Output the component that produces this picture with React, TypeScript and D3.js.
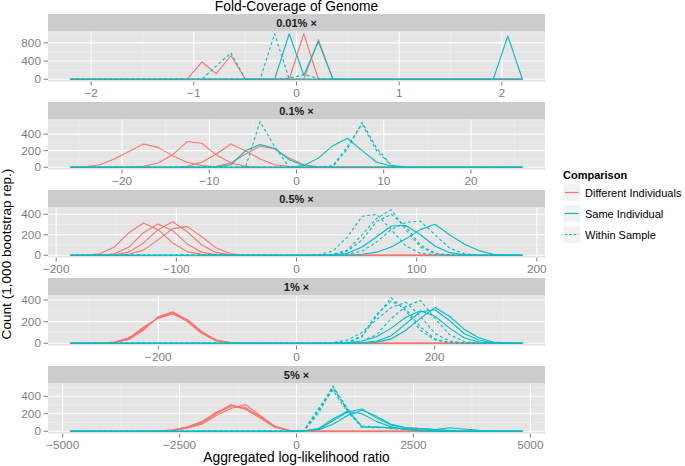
import React from "react";
import * as d3 from "d3";

// ---------------- data ----------------
const panelLabels = ["0.01% ×", "0.1% ×", "0.5% ×", "1% ×", "5% ×"];
// half-width of the range of bin centres in each panel
const panelHalfRange = [2.2, 25.9, 188, 327, 4830];
const pointsPerLine = 32;
const xTickValues = [
  [-2, -1, 0, 1, 2],
  [-20, -10, 0, 10, 20],
  [-200, -100, 0, 100, 200],
  [-200, 0, 200],
  [-5000, -2500, 0, 2500, 5000],
];
const xMinorStep = [0.5, 5, 50, 100, 1250];
const yTickValues = [
  [0, 400, 800],
  [0, 200, 400],
  [0, 200, 400],
  [0, 200, 400],
  [0, 200, 400],
];
const yMinorStep = [200, 100, 100, 100, 100];

const seriesNames = ["Different Individuals", "Same Individual", "Within Sample"];

// each line: [first bin index, counts from that bin on]; all other bins are 0
type Segment = [number, number[]];

const differentIndividuals: Segment[][] = [
  [
    [8, [0, 378, 124, 522, 0]],
    [15, [0, 1000, 0]],
    [16, [0, 870, 0]],
    [0, [0]],
  ],
  [
    [1, [5, 30, 100, 190, 280, 240, 140, 60, 20, 5]],
    [5, [10, 50, 150, 310, 290, 150, 50, 10]],
    [8, [10, 60, 160, 280, 200, 100, 30, 8]],
    [10, [10, 50, 160, 255, 220, 110, 30, 5]],
  ],
  [
    [1, [0, 15, 80, 220, 315, 250, 120, 35, 8]],
    [3, [15, 80, 220, 305, 240, 110, 30, 5]],
    [3, [5, 30, 120, 250, 327, 230, 100, 25, 5]],
    [4, [10, 50, 150, 260, 279, 180, 70, 15]],
  ],
  [
    [2, [2, 5, 40, 130, 240, 285, 210, 100, 25, 5]],
    [2, [2, 8, 50, 140, 235, 275, 200, 90, 20, 3]],
    [2, [1, 6, 35, 120, 245, 291, 215, 105, 30, 6]],
    [2, [2, 10, 45, 150, 230, 270, 220, 110, 25, 4]],
  ],
  [
    [6, [2, 10, 40, 90, 200, 290, 270, 170, 50, 8]],
    [6, [3, 15, 45, 100, 210, 306, 250, 150, 45, 6]],
    [6, [2, 8, 35, 80, 180, 260, 306, 180, 60, 10]],
    [6, [4, 12, 50, 110, 220, 280, 260, 160, 55, 8]],
  ],
];

const sameIndividual: Segment[][] = [
  [[14, [0, 1000, 87, 830, 0, 0, 0, 0, 0, 0, 0, 0, 0, 0, 0, 0, 950, 0]]],
  [
    [10, [5, 30, 200, 275, 230, 90, 20]],
    [15, [0, 20, 110, 260, 350, 200, 60, 15, 3]],
  ],
  [
    [18, [5, 20, 80, 180, 285, 290, 200, 90, 25, 5]],
    [20, [10, 30, 80, 160, 250, 302, 200, 110, 45, 10, 2]],
  ],
  [
    [20, [2, 10, 40, 120, 230, 330, 250, 130, 50, 12, 3]],
    [20, [5, 20, 70, 180, 290, 310, 210, 90, 30, 5]],
    [19, [5, 20, 60, 140, 240, 300, 250, 140, 50, 12, 2]],
  ],
  [
    [16, [5, 20, 120, 220, 255, 150, 70, 40, 30, 20, 40, 25, 10, 3]],
    [16, [5, 30, 140, 230, 200, 110, 50, 20, 5]],
    [16, [3, 15, 80, 180, 240, 170, 80, 40, 30, 20, 10]],
  ],
];

const withinSample: Segment[][] = [
  [
    [9, [0, 290, 580, 0]],
    [13, [0, 1000, 0]],
    [14, [0, 25, 100, 20, 0]],
  ],
  [
    [12, [0, 549, 250, 0]],
    [17, [0, 20, 250, 520, 200, 20]],
    [17, [0, 10, 220, 540, 230, 25]],
  ],
  [
    [17, [5, 40, 180, 380, 400, 250, 90, 20, 5]],
    [18, [10, 50, 200, 360, 444, 250, 80, 15]],
    [18, [5, 40, 150, 330, 400, 280, 100, 20]],
    [19, [10, 40, 130, 250, 320, 333, 200, 70, 15]],
  ],
  [
    [17, [0, 2, 5, 60, 250, 421, 300, 120, 30, 5]],
    [18, [2, 10, 70, 270, 390, 320, 150, 40, 8]],
    [19, [5, 20, 80, 230, 340, 397, 230, 80, 15]],
    [18, [5, 30, 100, 220, 330, 380, 250, 90, 20, 3]],
  ],
  [
    [16, [5, 230, 520, 230, 40, 50, 40, 30, 15, 5]],
    [16, [8, 260, 490, 250, 50, 45, 35, 25, 10, 3]],
    [16, [5, 200, 510, 260, 45, 40, 45, 30, 10, 2]],
    [16, [6, 240, 470, 220, 60, 50, 30, 20, 10, 4]],
  ],
];

// ---------------- layout ----------------
const W = 685;
const H = 466;
const plotLeft = 48;
const plotRight = 545;
const panelTop0 = 14;
const panelStep = 88;
const stripH = 17.5;
const plotH = 50;
const FONT = "'Liberation Sans', Arial, Helvetica, sans-serif";
const RED = "#F8766D";
const CYAN = "#00BFC4";
const GREY_TXT = "#7F7F7F";

function expand(seg: Segment): number[] {
  const out = new Array(pointsPerLine).fill(0);
  seg[1].forEach((v, i) => {
    if (seg[0] + i < pointsPerLine) out[seg[0] + i] = v;
  });
  return out;
}

function minorValues(step: number, lo: number, hi: number): number[] {
  const res: number[] = [];
  const start = Math.ceil(lo / step);
  const end = Math.floor(hi / step);
  for (let k = start; k <= end; k++) {
    if (Math.abs(k) % 2 === 1) res.push(k * step);
  }
  return res;
}

function fmt(v: number): string {
  return v < 0 ? "\u2212" + String(-v) : String(v);
}

function Panel({ i }: { i: number }) {
  const top = panelTop0 + i * panelStep;
  const pTop = top + stripH;
  const pBot = pTop + plotH;
  const D = panelHalfRange[i];
  const x = d3.scaleLinear().domain([-D * 1.1, D * 1.1]).range([plotLeft, plotRight]);
  const reds = differentIndividuals[i].map(expand);
  const sames = sameIndividual[i].map(expand);
  const withins = withinSample[i].map(expand);
  const M = d3.max([...reds, ...sames, ...withins].flat()) as number;
  const y = d3.scaleLinear().domain([-0.05 * M, 1.05 * M]).range([pBot, pTop]);
  const step = (2 * D) / (pointsPerLine - 1);
  const line = d3
    .line<number>()
    .x((_, k) => x(-D + k * step))
    .y((d) => y(d));
  const xMin = minorValues(xMinorStep[i], -D * 1.1, D * 1.1);
  const yMin = minorValues(yMinorStep[i], -0.05 * M, 1.05 * M);
  const mid = (plotLeft + plotRight) / 2;
  return (
    <g>
      <rect x={plotLeft} y={top} width={plotRight - plotLeft} height={stripH} fill="#CCCCCC" />
      <text
        x={mid}
        y={top + stripH / 2}
        dominantBaseline="central"
        textAnchor="middle"
        fontSize={11}
        fontWeight="bold"
        fill="#1A1A1A"
      >
        {panelLabels[i]}
      </text>
      <rect x={plotLeft} y={pTop} width={plotRight - plotLeft} height={plotH} fill="#E5E5E5" />
      {xMin.map((v) => (
        <line key={"xm" + v} x1={x(v)} x2={x(v)} y1={pTop} y2={pBot} stroke="#F2F2F2" strokeWidth={0.55} />
      ))}
      {yMin.map((v) => (
        <line key={"ym" + v} x1={plotLeft} x2={plotRight} y1={y(v)} y2={y(v)} stroke="#F2F2F2" strokeWidth={0.55} />
      ))}
      {xTickValues[i].map((v) => (
        <line key={"xg" + v} x1={x(v)} x2={x(v)} y1={pTop} y2={pBot} stroke="#FFFFFF" strokeWidth={1.1} />
      ))}
      {yTickValues[i].map((v) => (
        <line key={"yg" + v} x1={plotLeft} x2={plotRight} y1={y(v)} y2={y(v)} stroke="#FFFFFF" strokeWidth={1.1} />
      ))}
      {reds.map((d, k) => (
        <path key={"r" + k} d={line(d) || ""} fill="none" stroke={RED} strokeWidth={1.1} strokeLinejoin="round" />
      ))}
      {sames.map((d, k) => (
        <path key={"s" + k} d={line(d) || ""} fill="none" stroke={CYAN} strokeWidth={1.1} strokeLinejoin="round" />
      ))}
      {withins.map((d, k) => (
        <path
          key={"w" + k}
          d={line(d) || ""}
          fill="none"
          stroke={CYAN}
          strokeWidth={1.1}
          strokeDasharray="3,2.5"
          strokeLinejoin="round"
        />
      ))}
      {yTickValues[i].map((v) => (
        <g key={"yt" + v}>
          <line x1={43.5} x2={plotLeft} y1={y(v)} y2={y(v)} stroke={GREY_TXT} strokeWidth={1} />
          <text x={41} y={y(v)} dominantBaseline="central" textAnchor="end" fontSize={11.8} fill={GREY_TXT}>
            {fmt(v)}
          </text>
        </g>
      ))}
      {xTickValues[i].map((v) => (
        <g key={"xt" + v}>
          <line x1={x(v)} x2={x(v)} y1={pBot} y2={pBot + 4} stroke={GREY_TXT} strokeWidth={1} />
          <text x={x(v)} y={pBot + 15} textAnchor="middle" fontSize={11.8} fill={GREY_TXT}>
            {fmt(v)}
          </text>
        </g>
      ))}
    </g>
  );
}

export default function App() {
  const legendX = 563;
  const legendY0 = 183;
  const keyH = 20.8;
  return (
    <svg
      width={W}
      height={H}
      style={{ position: "absolute", left: 0, top: 0, background: "#FFFFFF" }}
      fontFamily={FONT}
    >
      <rect x={0} y={0} width={W} height={H} fill="#FFFFFF" />
      <text x={(plotLeft + plotRight) / 2} y={11} textAnchor="middle" fontSize={13.8} fill="#000">
        Fold-Coverage of Genome
      </text>
      {panelLabels.map((_, i) => (
        <Panel key={i} i={i} />
      ))}
      <text
        transform={`translate(10.5, 254) rotate(-90)`}
        textAnchor="middle"
        fontSize={13.6}
        fill="#000"
      >
        Count (1,000 bootstrap rep.)
      </text>
      <text x={(plotLeft + plotRight) / 2} y={462} textAnchor="middle" fontSize={13.8} fill="#000">
        Aggregated log-likelihood ratio
      </text>
      <text x={legendX} y={178.5} fontSize={11} fontWeight="bold" fill="#000">
        Comparison
      </text>
      {seriesNames.map((name, k) => {
        const yc = Math.round(legendY0 + k * keyH + keyH / 2 - 1.5) + 0.5;
        return (
          <g key={name}>
            <rect x={legendX} y={yc - 8.6} width={17.3} height={17.3} fill="#F2F2F2" stroke="#FFFFFF" strokeWidth={0.5} />
            <line
              x1={legendX + 1.7}
              x2={legendX + 15.6}
              y1={yc}
              y2={yc}
              stroke={k === 0 ? RED : CYAN}
              strokeWidth={1.2}
              strokeDasharray={k === 2 ? "2.5,2" : undefined}
            />
            <text x={legendX + 22} y={yc} dominantBaseline="central" fontSize={11} fill="#000">
              {name}
            </text>
          </g>
        );
      })}
    </svg>
  );
}
